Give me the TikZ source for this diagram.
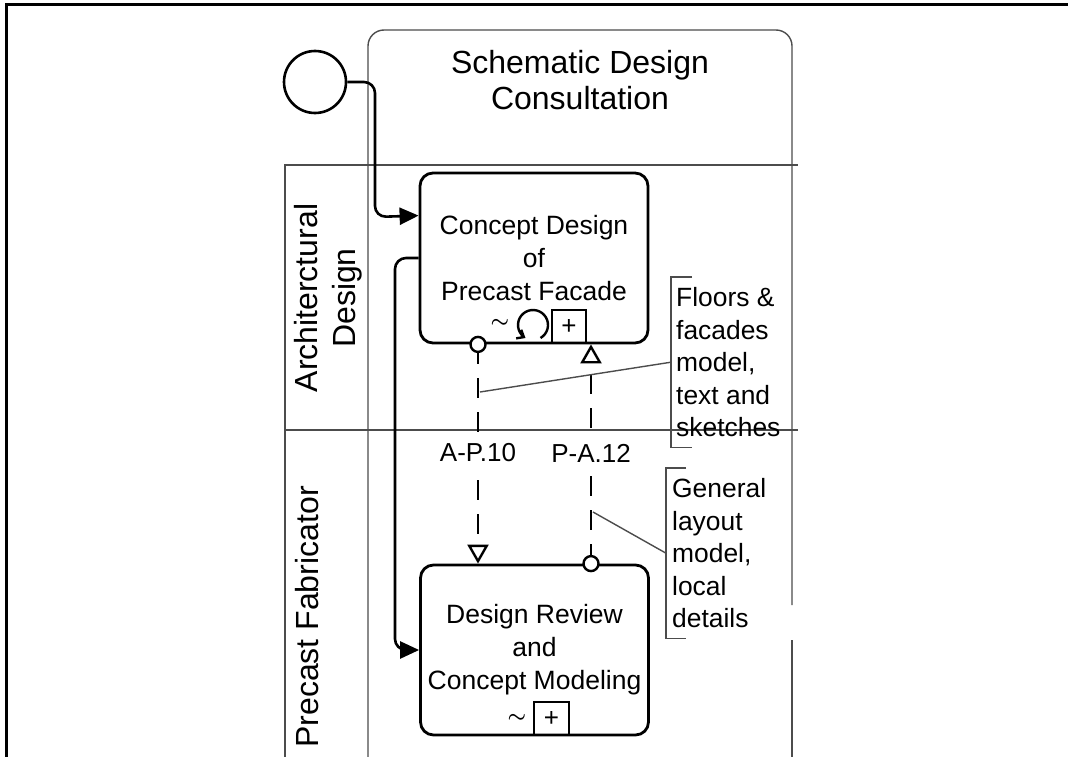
\documentclass[tikz,border=0pt]{standalone}
\usepackage{fontspec}
\setmainfont{Liberation Sans}
\usetikzlibrary{arrows.meta,calc}
\begin{document}
\begin{tikzpicture}[x=1pt,y=-1pt,
  frame/.style={line width=3pt, black},
  poolline/.style={line width=1.4pt, black!70},
  taskbox/.style={draw, line width=2.8pt, rounded corners=13pt, minimum width=228pt, minimum height=170pt, align=center, font=\fontsize{26.5}{33}\selectfont, inner sep=0pt},
  startev/.style={draw, circle, line width=2.6pt, minimum size=62pt, inner sep=0pt},
  seqflow/.style={line width=2.6pt, rounded corners=11pt, -{Triangle[length=19pt,width=17pt]}},
  msgflow/.style={line width=2.6pt, dash pattern=on 20pt off 14pt, -{Triangle[open, length=19pt, width=21pt, line width=2.4pt]}},
  msgstart/.style={draw, circle, fill=white, line width=2.4pt, minimum size=15pt, inner sep=0pt},
  msglbl/.style={fill=white, inner xsep=1.5pt, inner ysep=9pt, font=\fontsize{26}{30}\selectfont},
  lanelbl/.style={rotate=90, align=center, font=\fontsize{32}{38.5}\selectfont, inner sep=0pt},
  annotext/.style={align=left, anchor=north west, inner xsep=5pt, inner ysep=0pt, minimum height=170pt, font=\fontsize{26.4}{32.6}\selectfont},
  annoline/.style={line width=1.4pt, black!70},
  plusbox/.style={draw, line width=2.4pt, minimum width=34pt, minimum height=33pt, inner sep=0pt, anchor=south, font=\fontsize{26}{26}\selectfont},
  markertxt/.style={inner sep=0pt, font=\fontsize{21}{21}\selectfont\boldmath}
]
\useasboundingbox (0,0) rectangle (1068,757);

% outer frame (top and left edges)
\draw[frame] (6,757) -- (6,5) -- (1068,5);

% title box of the pool
\draw[poolline, rounded corners=16pt] (368,757) -- (368,30) -- (792,30) -- (792,605);
\draw[poolline] (792,640) -- (792,757);
\node[align=center, inner sep=0pt, font=\fontsize{32}{36.5}\selectfont] (title) at (580,80) {Schematic Design\\Consultation};

% pool and lanes
\draw[poolline] (285,757) -- (285,165) -- (798,165);
\draw[poolline] (285,430) -- (798,430);
\node[lanelbl] (lane1) at (328,298) {Architerctural\\Design};
\node[lanelbl] (lane2) at (307,617) {Precast Fabricator};

% start event
\node[startev] (se) at (315,82) {};

% tasks
\node[taskbox] (t1) at (534,258) {Concept Design\\of\\Precast Facade};
\node[taskbox] (t2) at (534.5,650) {Design Review\\and\\Concept Modeling};

% task markers
\node[plusbox] (p1) at ($(t1.south)+(35,0)$) {+};
\node[markertxt] (tl1) at (500,323) {$\sim$};
\draw[line width=2.4pt, -{Straight Barb[length=6pt,width=10pt]}] (533,325) ++(60:15) arc[start angle=60, end angle=-240, radius=15];
\node[plusbox, minimum width=35pt] (p2) at ($(t2.south)+(17,0)$) {+};
\node[markertxt] (tl2) at (517,718) {$\sim$};

% sequence flows
\draw[seqflow] (se.east) -| (375,217) -- ($(t1.north west)+(0,44)$);
\draw[seqflow] (t1.west) -| (395,480) |- (t2.west);

% message flows
\coordinate (m1s) at ($(t1.south)+(-56,0)$);
\coordinate (m1e) at ($(t2.north)+(-56.5,0)$);
\coordinate (m2s) at ($(t2.north)+(56.5,0)$);
\coordinate (m2e) at ($(t1.south)+(57,0)$);
\draw[msgflow] (m1s) -- (m1e);
\draw[msgflow] (m2s) -- (m2e);
\node[msgstart] (c1) at (m1s) {};
\node[msgstart] (c2) at (m2s) {};
\node[msglbl] (l1) at (478,453) {A-P.10};
\node[msglbl] (l2) at (591,453) {P-A.12};

% annotations
\node[annotext] (a1) at (671,277) {Floors \&\\facades\\model,\\text and\\sketches};
\draw[annoline] ([xshift=21pt]a1.north west) -- (a1.north west) -- (a1.south west) -- ([xshift=21pt]a1.south west);
\coordinate (as1) at (480,392);
\draw[annoline] (a1.west) -- (as1);

\node[annotext, inner xsep=6pt] (a2) at (666,468) {General\\layout\\model,\\local\\details};
\draw[annoline] ([xshift=20pt]a2.north west) -- (a2.north west) -- (a2.south west) -- ([xshift=20pt]a2.south west);
\coordinate (as2) at (593,512);
\draw[annoline] (a2.west) -- (as2);
\end{tikzpicture}
\end{document}
